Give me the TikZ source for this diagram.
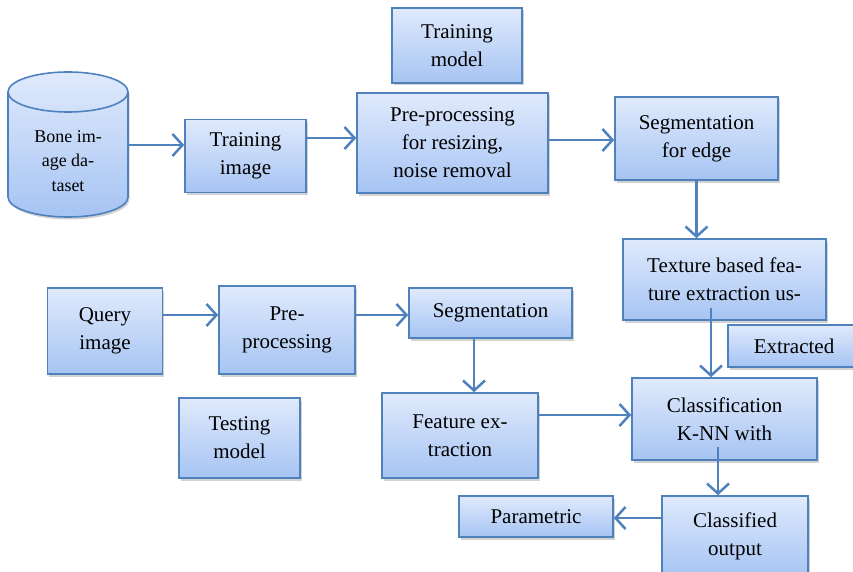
\documentclass[tikz,border=0pt]{standalone}
\usepackage{fontspec}
\setmainfont{Liberation Serif}
\usetikzlibrary{shadows,arrows.meta}
\definecolor{boxline}{RGB}{79,129,189}
\definecolor{filltop}{RGB}{224,234,252}
\definecolor{fillbot}{RGB}{166,196,243}
\begin{document}
\begin{tikzpicture}[x=1pt,y=-1pt] % y grows down, like the picture
\tikzstyle{mybox} = [rectangle, draw=boxline, line width=1.6pt, top color=filltop, bottom color=fillbot, align=center, font=\fontsize{21}{28}\selectfont, drop shadow={shadow xshift=1.5pt, shadow yshift=-2.5pt, fill=gray!70}] % process box
\tikzstyle{mydata} = [draw=boxline, line width=1.6pt, top color=filltop, bottom color=fillbot, drop shadow={shadow xshift=1.5pt, shadow yshift=-2.5pt, fill=gray!70}] % data store
\tikzstyle{myflow} = [draw=boxline, line width=2.5pt, -{Straight Barb[length=10pt, width=22pt, line width=2.5pt]}] % arrow
\useasboundingbox (0,0) rectangle (853,572);
% training part
\path[mydata] (8,92) -- (8,197) arc[start angle=180, end angle=0, x radius=60, y radius=20] -- (128,92) arc[start angle=0, end angle=-180, x radius=60, y radius=20] -- cycle;
\draw[boxline, line width=1.6pt] (8,92) arc[start angle=180, end angle=0, x radius=60, y radius=20];
\node[align=center, font=\fontsize{18}{24.5}\selectfont] (data) at (68,161) {Bone im-\\age da-\\taset};
\coordinate (dataout) at (128,145);
\node[mybox, minimum width=121pt, minimum height=73pt] (tri) at (245.5,156) {Training\\image};
\node[mybox, minimum width=130pt, minimum height=75pt] (tm) at (457,45.5) {Training\\model};
\node[mybox, minimum width=191pt, minimum height=100pt] (pre) at (452.5,143) {Pre-processing\\for resizing,\\noise removal};
\node[mybox, minimum width=163pt, minimum height=83pt] (seg) at (696.5,138.5) {Segmentation\\for edge};
\node[mybox, minimum width=203pt, minimum height=81pt] (tex) at (724.5,279.5) {Texture based fea-\\ture extraction us-};
\node[mybox, minimum width=144pt, minimum height=42pt] (ext) at (800,346) {\hspace*{-12pt}Extracted};
% testing part
\node[mybox, minimum width=115pt, minimum height=86pt] (q) at (105,331) {Query\\image};
\node[mybox, minimum width=136pt, minimum height=88pt] (pp) at (287,330) {Pre-\\processing};
\node[mybox, minimum width=163pt, minimum height=50pt] (sg) at (490.5,313) {Segmentation};
\node[mybox, minimum width=121pt, minimum height=80pt] (test) at (239.5,438) {Testing\\model};
\node[mybox, minimum width=156pt, minimum height=85pt] (fe) at (460,435.5) {Feature ex-\\traction};
\node[mybox, minimum width=185pt, minimum height=82pt] (cls) at (724.5,419) {Classification\\K-NN with};
\node[mybox, minimum width=146pt, minimum height=80pt] (co) at (735,536) {Classified\\output};
\node[mybox, minimum width=154pt, minimum height=41pt] (par) at (536,516.5) {Parametric};
% arrows
\draw[myflow] (dataout) -- (dataout -| tri.west);
\draw[myflow] ([yshift=18pt]tri.east) -- ([yshift=18pt]tri.east -| pre.west);
\draw[myflow] ([yshift=3pt]pre.east) -- ([yshift=3pt]pre.east -| seg.west);
\draw[myflow] (seg.south) -- (seg.south |- tex.north);
\draw[myflow] ([xshift=-13.5pt,yshift=-28pt]tex.center) -- ([xshift=-13.5pt]tex.center |- cls.north);
\draw[myflow] ([yshift=16pt]q.east) -- ([yshift=16pt]q.east -| pp.west);
\draw[myflow] ([yshift=15pt]pp.east) -- ([yshift=15pt]pp.east -| sg.west);
\draw[myflow] ([xshift=-16.5pt]sg.south) -- ([xshift=-16.5pt]sg.south |- fe.north);
\draw[myflow] ([yshift=20.5pt]fe.east) -- ([yshift=20.5pt]fe.east -| cls.west);
\draw[myflow] ([xshift=-6.5pt,yshift=-28pt]cls.center) -- ([xshift=-6.5pt]cls.center |- co.north);
\draw[myflow] ([yshift=18pt]co.west) -- ([yshift=18pt]co.west -| par.east);
\end{tikzpicture}
\end{document}
